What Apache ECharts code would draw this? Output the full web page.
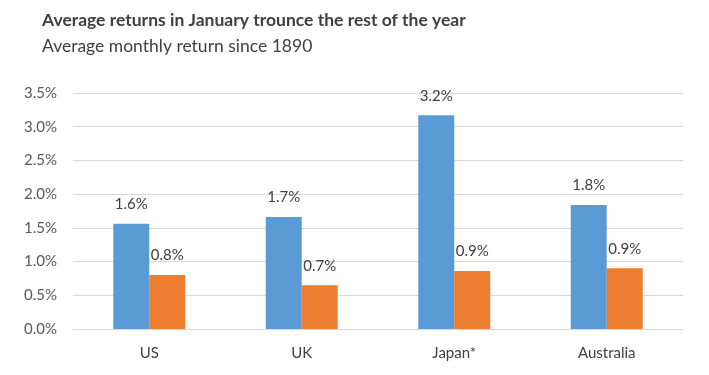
<!DOCTYPE html>
<html>
<head>
<meta charset="utf-8">
<script src="https://cdn.jsdelivr.net/npm/echarts@6/dist/echarts.min.js"></script>
<style>
    html, body { margin: 0; padding: 0; background: #fff; }
    #chart { width: 709px; height: 375px; }
</style>
</head>
<body>
<div id="chart"></div>
<script>
var categories = ['US', 'UK', 'Japan*', 'Australia'];
var januaryReturns = [1.56, 1.66, 3.17, 1.84];
var otherMonthsReturns = [0.80, 0.65, 0.86, 0.90];
var januaryLabels = ['1.6%', '1.7%', '3.2%', '1.8%'];
var otherLabels = ['0.8%', '0.7%', '0.9%', '0.9%'];

var font = 'Lato, "Open Sans", sans-serif';

var chart = echarts.init(document.getElementById('chart'));
chart.setOption({
    animation: false,
    textStyle: { fontFamily: font },
    graphic: [
        {
            type: 'text',
            left: 42,
            top: 11,
            style: {
                text: 'Average returns in January trounce the rest of the year',
                font: 'bold 17.5px ' + font,
                fill: '#404040'
            }
        },
        {
            type: 'text',
            left: 42,
            top: 37,
            style: {
                text: 'Average monthly return since 1890',
                font: '17.5px ' + font,
                fill: '#404040'
            }
        }
    ],
    grid: { left: 73, right: 26, top: 93, bottom: 46 },
    xAxis: {
        type: 'category',
        data: categories,
        axisLine: { lineStyle: { color: '#d9d9d9' } },
        axisTick: { show: false },
        axisLabel: { fontSize: 15, color: '#404040', margin: 17 }
    },
    yAxis: {
        type: 'value',
        min: 0,
        max: 3.5,
        interval: 0.5,
        axisLine: { show: false },
        axisTick: { show: false },
        splitLine: { lineStyle: { color: '#d9d9d9' } },
        axisLabel: {
            fontSize: 15,
            color: '#595959',
            margin: 16,
            formatter: function (v) { return v.toFixed(1) + '%'; }
        }
    },
    series: [
        {
            name: 'January',
            type: 'bar',
            data: januaryReturns,
            barWidth: 36,
            barGap: '0%',
            itemStyle: { color: '#5b9bd5' },
            label: {
                show: true,
                position: 'top',
                distance: 12,
                fontSize: 15,
                color: '#404040',
                formatter: function (p) { return januaryLabels[p.dataIndex]; }
            }
        },
        {
            name: 'Rest of year',
            type: 'bar',
            data: otherMonthsReturns,
            barWidth: 36,
            itemStyle: { color: '#ed7d31' },
            label: {
                show: true,
                position: 'top',
                distance: 12,
                fontSize: 15,
                color: '#404040',
                formatter: function (p) { return otherLabels[p.dataIndex]; }
            }
        }
    ]
});
</script>
</body>
</html>
